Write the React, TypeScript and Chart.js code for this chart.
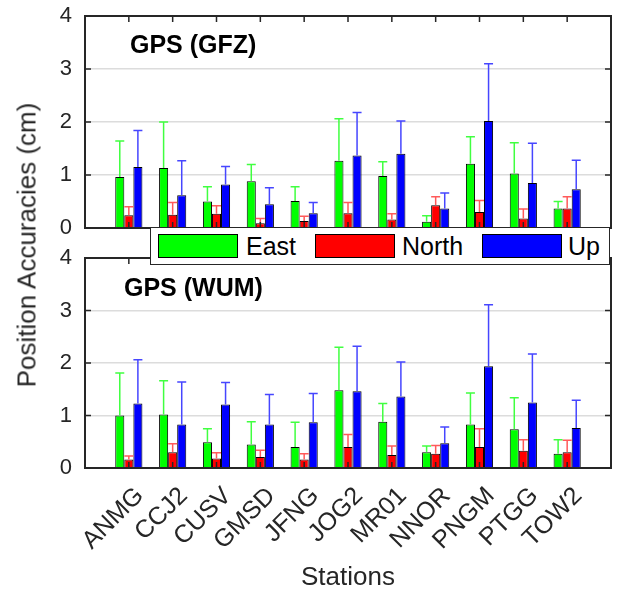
import React, { useEffect, useRef } from "react";
import { Chart, registerables } from "chart.js";
Chart.register(...registerables);

// ---------------- data ----------------
const stations = ["ANMG", "CCJ2", "CUSV", "GMSD", "JFNG", "JOG2", "MR01", "NNOR", "PNGM", "PTGG", "TOW2"];
const yTickValues = [0, 1, 2, 3, 4];
const seriesNames = ["East", "North", "Up"];

const gfzTitle = "GPS (GFZ)";
const gfzEast = [0.96, 1.13, 0.50, 0.88, 0.51, 1.27, 0.98, 0.12, 1.21, 1.03, 0.37];
const gfzEastErr = [0.68, 0.87, 0.28, 0.32, 0.27, 0.79, 0.27, 0.11, 0.51, 0.58, 0.13];
const gfzNorth = [0.24, 0.25, 0.27, 0.09, 0.13, 0.28, 0.16, 0.43, 0.30, 0.18, 0.37];
const gfzNorthErr = [0.16, 0.23, 0.15, 0.09, 0.09, 0.20, 0.11, 0.16, 0.22, 0.18, 0.22];
const gfzUp = [1.15, 0.62, 0.82, 0.45, 0.28, 1.37, 1.40, 0.37, 2.02, 0.85, 0.73];
const gfzUpErr = [0.69, 0.65, 0.34, 0.31, 0.20, 0.81, 0.62, 0.29, 1.08, 0.75, 0.55];

const wumTitle = "GPS (WUM)";
const wumEast = [1.00, 1.02, 0.49, 0.45, 0.40, 1.48, 0.88, 0.30, 0.83, 0.74, 0.27];
const wumEastErr = [0.81, 0.64, 0.26, 0.43, 0.47, 0.82, 0.35, 0.12, 0.60, 0.60, 0.27];
const wumNorth = [0.16, 0.30, 0.18, 0.21, 0.16, 0.40, 0.25, 0.27, 0.40, 0.33, 0.30];
const wumNorthErr = [0.07, 0.16, 0.11, 0.13, 0.11, 0.24, 0.17, 0.16, 0.35, 0.21, 0.23];
const wumUp = [1.23, 0.83, 1.21, 0.83, 0.87, 1.46, 1.36, 0.47, 1.94, 1.25, 0.76];
const wumUpErr = [0.83, 0.81, 0.42, 0.57, 0.55, 0.86, 0.66, 0.31, 1.17, 0.92, 0.53];

const yAxisTitle = "Position Accuracies (cm)";
const xAxisTitle = "Stations";

// ---------------- styles ----------------
const FONT = "'Liberation Sans', Arial, Helvetica, sans-serif";
const INK = "#262626";
const barColors = ["#00ff00", "#ff0000", "#0000ff"];
const errColors = ["#40ff40", "#ff5a5a", "#4646ff"];

const padArr = (a: number[]) => [null, ...a, null];

const errorBarPlugin = {
  id: "errorBars",
  afterDatasetsDraw(chart: any) {
    const ctx = chart.ctx;
    const ys = chart.scales.y;
    const a = chart.chartArea;
    ctx.save();
    ctx.beginPath();
    ctx.rect(a.left, a.top - 1, a.right - a.left, a.bottom - a.top + 1);
    ctx.clip();
    chart.data.datasets.forEach((ds: any, di: number) => {
      const meta = chart.getDatasetMeta(di);
      meta.data.forEach((el: any, i: number) => {
        const v = ds.data[i];
        const e = ds.errors[i];
        if (v == null || e == null) return;
        const x = el.x;
        const yb = ys.getPixelForValue(v);
        const yt = ys.getPixelForValue(v + e);
        ctx.strokeStyle = ds.errorColor;
        ctx.lineWidth = 1.5;
        ctx.beginPath();
        ctx.moveTo(x, yb);
        ctx.lineTo(x, yt);
        ctx.moveTo(x - 4.5, yt);
        ctx.lineTo(x + 4.5, yt);
        ctx.stroke();
      });
    });
    ctx.restore();
  },
};

const framePlugin = {
  id: "frame",
  afterDraw(chart: any, _args: any, opts: any) {
    const ctx = chart.ctx;
    const a = chart.chartArea;
    const xs = chart.scales.x;
    const ys = chart.scales.y;
    ctx.save();
    ctx.strokeStyle = INK;
    ctx.lineWidth = 2;
    ctx.strokeRect(a.left, a.top, a.right - a.left, a.bottom - a.top);
    ctx.lineWidth = 1.5;
    ctx.beginPath();
    const L = 6;
    stations.forEach((_s, i) => {
      const px = xs.getPixelForValue(i + 1);
      ctx.moveTo(px, a.top);
      ctx.lineTo(px, a.top + L);
      ctx.moveTo(px, a.bottom);
      ctx.lineTo(px, a.bottom - L);
    });
    yTickValues.forEach((v) => {
      const py = ys.getPixelForValue(v);
      ctx.moveTo(a.left, py);
      ctx.lineTo(a.left + L, py);
      ctx.moveTo(a.right, py);
      ctx.lineTo(a.right - L, py);
    });
    ctx.stroke();
    // panel title
    ctx.fillStyle = "#000";
    ctx.font = `bold 25px ${FONT}`;
    ctx.textBaseline = "alphabetic";
    ctx.textAlign = "left";
    ctx.fillText(opts.title, opts.tx, opts.ty);
    // rotated category labels
    if (opts.showX) {
      ctx.fillStyle = INK;
      ctx.font = `25px ${FONT}`;
      ctx.textAlign = "right";
      ctx.textBaseline = "middle";
      stations.forEach((s, i) => {
        const px = xs.getPixelForValue(i + 1);
        ctx.save();
        ctx.translate(px + 11, a.bottom + 24);
        ctx.rotate(-Math.PI / 4);
        ctx.fillText(s, 0, 0);
        ctx.restore();
      });
    }
    ctx.restore();
  },
};

function makeConfig(
  title: string,
  values: number[][],
  errs: number[][],
  padding: any,
  tx: number,
  ty: number,
  showX: boolean,
  xHeight: number
): any {
  return {
    type: "bar",
    data: {
      labels: ["", ...stations, ""],
      datasets: seriesNames.map((name, k) => ({
        label: name,
        data: padArr(values[k]),
        errors: padArr(errs[k]),
        errorColor: errColors[k],
        backgroundColor: barColors[k],
        borderColor: "#000",
        borderWidth: 1,
        categoryPercentage: 0.62,
        barPercentage: 1,
      })),
    },
    options: {
      responsive: false,
      animation: false,
      layout: { padding },
      plugins: {
        legend: { display: false },
        tooltip: { enabled: false },
        frame: { title, tx, ty, showX },
      },
      scales: {
        x: {
          type: "category",
          offset: false,
          grid: { display: false, drawTicks: false },
          border: { display: false },
          ticks: { display: false, autoSkip: false, maxRotation: 0 },
          afterFit(s: any) {
            s.height = xHeight;
            s.paddingLeft = 0;
            s.paddingRight = 0;
          },
        },
        y: {
          min: 0,
          max: 4,
          afterBuildTicks(s: any) {
            s.ticks = yTickValues.map((v) => ({ value: v }));
          },
          ticks: {
            font: { size: 22, family: FONT },
            color: INK,
            padding: 13,
          },
          grid: { color: "#dcdcdc", lineWidth: 1.5, drawTicks: false },
          border: { display: false },
          afterFit(s: any) {
            s.width = 85;
            s.paddingTop = 0;
            s.paddingBottom = 0;
          },
        },
      },
    },
    plugins: [errorBarPlugin, framePlugin],
  };
}

export default function App() {
  const topRef = useRef<HTMLCanvasElement>(null);
  const botRef = useRef<HTMLCanvasElement>(null);

  useEffect(() => {
    const c1 = new Chart(
      topRef.current as HTMLCanvasElement,
      makeConfig(
        gfzTitle,
        [gfzEast, gfzNorth, gfzUp],
        [gfzEastErr, gfzNorthErr, gfzUpErr],
        { left: 0, right: 7, top: 16, bottom: 22 },
        130,
        53,
        false,
        0
      )
    );
    const c2 = new Chart(
      botRef.current as HTMLCanvasElement,
      makeConfig(
        wumTitle,
        [wumEast, wumNorth, wumUp],
        [wumEastErr, wumNorthErr, wumUpErr],
        { left: 0, right: 7, top: 18, bottom: 0 },
        124,
        56,
        true,
        123
      )
    );
    return () => {
      c1.destroy();
      c2.destroy();
    };
  }, []);

  const swLeft = [7, 164, 331];
  const txtLeft = [95, 251, 417];

  return (
    <div
      style={{
        position: "absolute",
        left: 0,
        top: 0,
        width: 618,
        height: 591,
        background: "#fff",
        fontFamily: FONT,
        overflow: "hidden",
      }}
    >
      <canvas ref={topRef} width={618} height={250} style={{ position: "absolute", left: 0, top: 0 }} />
      <canvas ref={botRef} width={618} height={351} style={{ position: "absolute", left: 0, top: 240 }} />
      <div
        style={{
          position: "absolute",
          left: 150,
          top: 227,
          width: 460,
          height: 38,
          boxSizing: "border-box",
          border: `1px solid ${INK}`,
          background: "#fff",
        }}
      >
        {seriesNames.map((n, k) => (
          <React.Fragment key={n}>
            <div
              style={{
                position: "absolute",
                left: swLeft[k],
                top: 6,
                width: 80,
                height: 24,
                boxSizing: "border-box",
                border: "1px solid #000",
                background: barColors[k],
              }}
            />
            <div
              style={{
                position: "absolute",
                left: txtLeft[k],
                top: 0,
                height: 36,
                lineHeight: "36px",
                fontSize: 25,
                color: "#000",
                whiteSpace: "nowrap",
              }}
            >
              {n}
            </div>
          </React.Fragment>
        ))}
      </div>
      <div
        style={{
          position: "absolute",
          left: 27,
          top: 245,
          transform: "translate(-50%, -50%) rotate(-90deg)",
          whiteSpace: "nowrap",
          fontSize: 26,
          color: INK,
        }}
      >
        {yAxisTitle}
      </div>
      <div
        style={{
          position: "absolute",
          left: 348,
          top: 576,
          transform: "translate(-50%, -50%)",
          whiteSpace: "nowrap",
          fontSize: 26,
          color: INK,
        }}
      >
        {xAxisTitle}
      </div>
    </div>
  );
}
